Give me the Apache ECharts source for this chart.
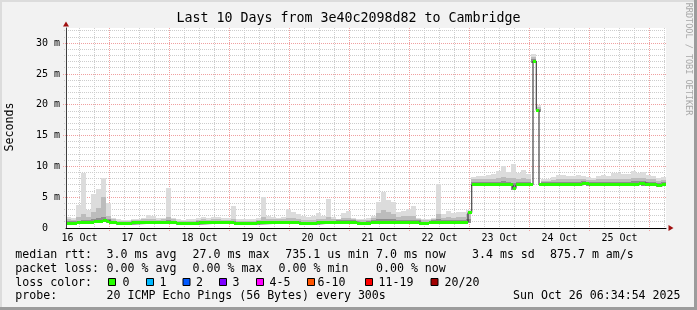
<!DOCTYPE html>
<html><head><meta charset="utf-8">
<script src="https://cdn.jsdelivr.net/npm/echarts@6/dist/echarts.min.js"></script>
<style>html,body{margin:0;padding:0;background:#f2f2f2}#c{width:697px;height:310px}</style>
</head><body><div id="c"></div><script>
// ---- axis ranges (hours counted from Oct 16 00:00) ----
const START_HOUR = 6.6;
const END_HOUR = 246.6;
const Y_MAX = 32.48;
const BUCKET_HOURS = 2;

const dayLabels = ['16 Oct','17 Oct','18 Oct','19 Oct','20 Oct','21 Oct','22 Oct','23 Oct','24 Oct','25 Oct'];
const dayLabelHours = [12,36,60,84,108,132,156,180,204,228];
const yTickValues = [0,5,10,15,20,25,30];

// ---- median RTT (ms), step changes ----
const medianHours = [6.6,11,17.8,21.4,23,23.8,27,33,51,59.8,73.8,83,99.8,107,115.8,123,128.6,147.8,151.8,167.4,168.9,185.4,186.6,193.4,194.7,195.8,213,215.8,235.8,238.2,243,245,246.6];
const medianValues = [0.8,0.9,1.05,1.2,1.0,0.9,0.65,0.9,0.65,0.85,0.65,0.85,0.65,0.85,0.95,0.75,0.95,0.75,0.95,2.5,7.0,6.4,7.0,27.1,19.1,7.0,7.2,7.0,7.3,7.1,6.85,7.0,7.0];

// ---- smoke (ms), one value per 2-hour bucket ----
const smokeMin = [0.65,0.65,0.75,0.75,0.75,0.85,0.9,1.0,0.85,0.75, 0.5,0.5,0.5,0.75,0.75,0.75,0.75,0.75,0.75,0.75, 0.75,0.7,0.5,0.5,0.5,0.5,0.65,0.7,0.7,0.7, 0.7,0.7,0.7,0.6,0.5,0.5,0.5,0.5,0.7,0.7, 0.7,0.7,0.7,0.7,0.7,0.7,0.6,0.5,0.5,0.5, 0.7,0.7,0.7,0.7,0.8,0.8,0.8,0.8,0.6,0.6, 0.6,0.8,0.8,0.8,0.8,0.8,0.8,0.8,0.8,0.8, 0.8,0.6,0.6,0.8,0.8,0.8,0.8,0.8,0.8,0.8, 0.85,6.8,6.8,6.8,6.8,6.8,6.8,6.8,6.8,6.2, 6.8,6.8,6.8,26.8,18.8,6.8,6.8,6.8,6.8,6.8, 6.8,6.8,6.8,7.0,6.8,6.8,6.8,6.8,6.8,6.8, 6.8,6.8,6.8,6.8,7.0,6.9,6.9,6.9,6.6,6.8];
const smokeLow = [1.1,1.1,1.2,1.3,1.3,1.5,1.6,1.8,1.4,1.2, 0.95,0.95,0.95,1.15,1.2,1.2,1.2,1.2,1.2,1.2, 1.3,1.2,0.95,0.95,0.95,0.95,1.1,1.15,1.1,1.15, 1.15,1.1,1.1,1.1,0.95,0.95,0.95,0.95,1.1,1.2, 1.15,1.15,1.1,1.15,1.2,1.2,1.1,1.0,1.0,1.0, 1.15,1.15,1.2,1.15,1.25,1.3,1.3,1.25,1.05,1.05, 1.1,1.3,1.4,1.5,1.4,1.4,1.3,1.3,1.3,1.3, 1.25,1.05,1.05,1.25,1.4,1.3,1.3,1.3,1.3,1.3, 1.4,7.5,7.5,7.5,7.5,7.5,7.5,7.6,7.5,7.3, 7.5,7.5,7.5,27.4,19.4,7.4,7.4,7.4,7.5,7.5, 7.5,7.5,7.5,7.6,7.5,7.5,7.5,7.5,7.5,7.5, 7.5,7.5,7.5,7.6,7.7,7.6,7.5,7.5,7.3,7.4];
const smokeMid = [1.4,1.3,1.8,2.2,1.8,2.6,3.2,5.0,2.0,1.4, 1.2,1.1,1.1,1.3,1.35,1.4,1.5,1.4,1.35,1.4, 1.8,1.4,1.2,1.1,1.15,1.2,1.35,1.4,1.35,1.45, 1.45,1.35,1.35,1.5,1.2,1.15,1.15,1.2,1.35,1.8, 1.45,1.45,1.4,1.45,1.7,1.6,1.5,1.3,1.3,1.3, 1.5,1.45,1.8,1.4,1.4,1.6,1.7,1.4,1.25,1.3, 1.35,1.6,2.4,3.0,2.6,2.3,1.8,1.9,2.0,2.0, 1.4,1.3,1.25,1.4,2.2,1.7,1.8,1.7,1.8,1.8, 2.2,7.9,7.9,7.9,8.0,8.0,8.1,8.3,8.1,8.2, 8.0,8.2,8.0,27.8,19.6,7.6,7.7,7.8,7.9,7.9, 7.9,7.9,7.9,8.0,7.8,7.8,7.9,7.9,7.9,8.0, 8.0,7.9,8.0,8.1,8.1,8.1,7.9,7.9,7.7,7.8];
const smokeMax = [1.8,1.6,3.7,9.0,3.0,5.6,6.4,8.1,4.0,1.7, 1.5,1.3,1.3,1.4,1.5,1.7,2.1,1.9,1.6,1.7, 6.5,1.7,1.5,1.3,1.4,1.5,1.7,1.8,1.6,1.8, 1.8,1.6,1.6,3.6,1.5,1.4,1.4,1.5,1.6,5.0, 1.9,1.8,1.7,1.8,3.1,2.6,2.2,1.9,1.8,1.9, 2.4,1.9,4.7,1.8,1.5,2.5,2.8,1.6,1.4,1.5, 1.6,2.0,4.3,5.9,4.5,4.2,2.6,2.8,3.1,3.6, 1.6,1.5,1.4,1.6,7.2,2.3,2.8,2.4,2.6,2.6, 2.9,8.3,8.4,8.5,8.6,8.8,9.2,10.0,9.1,10.4, 8.9,9.4,8.8,28.3,19.9,7.9,8.0,8.3,8.6,8.6, 8.4,8.5,8.6,8.5,8.3,8.2,8.4,8.6,8.5,9.0, 8.9,8.7,8.8,9.2,9.0,9.1,8.6,8.4,8.2,8.3];

// ---- legend text ----
const rttStats = ['median rtt:','3.0 ms avg','27.0 ms max','735.1 us min','7.0 ms now','3.4 ms sd','875.7 m am/s'];
const rttStatX = [16,107.3,193.3,286,376.7,472.7,550.7];
const lossStats = ['packet loss:','0.00 % avg','0.00 % max','0.00 % min','0.00 % now'];
const lossStatX = [16,107.3,193.3,279.3,376.7];
const lossLabels = ['0','1','2','3','4-5','6-10','11-19','20/20'];
const lossColors = ['#26ff00','#00b8ff','#0059ff','#7e00ff','#ff00ff','#ff5500','#ff0000','#a10000'];
const lossBoxX = [108.5,146.5,183,219.5,256.5,307.5,365.5,431];
const lossLabelX = [122.5,159.5,196,232.5,269.5,317.5,378.5,444.5];
const probeText = '20 ICMP Echo Pings (56 Bytes) every 300s';
const dateText = 'Sun Oct 26 06:34:54 2025';
const titleText = 'Last 10 Days from 3e40c2098d82 to Cambridge';

const MONO = "'DejaVu Sans Mono', monospace";
const MAJOR = '#f0a0a0', MINOR = '#cdcdcd';

// grid line positions (axis structure, not data)
const gridLines = [];
for (let h = 12; h < END_HOUR; h += 6) gridLines.push([h, h % 24 === 0 ? 1 : 0]);
for (let v = 1; v < Y_MAX; v += 1) gridLines.push([v, v % 5 === 0 ? 3 : 2]);

const chart = echarts.init(document.getElementById('c'), null, {renderer: 'canvas'});

function smokeSeries(lo, hi, color, z) {
  return {
    type: 'custom', silent: true, z: z, clip: true,
    data: lo.map((l, i) => [START_HOUR + i * BUCKET_HOURS, l, hi[i]]),
    encode: {x: 0, y: [1, 2]},
    renderItem: function (params, api) {
      const x0 = api.value(0), l = api.value(1), h = api.value(2);
      const p0 = api.coord([x0, h]);
      const p1 = api.coord([x0 + BUCKET_HOURS, l]);
      const xa = Math.round(p0[0]), xb = Math.round(p1[0]);
      const ya = Math.round(p0[1]), yb = Math.round(p1[1]);
      return {type: 'rect', shape: {x: xa, y: ya, width: xb - xa, height: Math.max(1, yb - ya)}, style: {fill: color}};
    }
  };
}

const medianSegs = [];
for (let i = 0; i < medianHours.length - 1; i++) medianSegs.push([medianHours[i], medianHours[i + 1], medianValues[i]]);

const texts = [];
function txt(s, x, y, extra) {
  texts.push(Object.assign({type: 'text', x: x, y: y, silent: true, style: {text: s, font: '11.6px ' + MONO, fill: '#000', align: 'left', verticalAlign: 'middle'}}, extra || {}));
}
rttStats.forEach((s, i) => txt(s, rttStatX[i] - 0.7, 254.5));
lossStats.forEach((s, i) => txt(s, lossStatX[i] - 0.7, 268.5));
txt('loss color:', 15.3, 282.5);
lossLabels.forEach((s, i) => {
  texts.push({type: 'rect', silent: true, shape: {x: lossBoxX[i], y: 278.5, width: 7, height: 7}, style: {fill: lossColors[i], stroke: '#000', lineWidth: 1}});
  txt(s, lossLabelX[i], 282.5);
});
txt('probe:', 15.3, 296);
txt(probeText, 106.6, 296);
texts.push({type: 'text', x: 680.5, y: 296, silent: true, style: {text: dateText, font: '11.6px ' + MONO, fill: '#000', align: 'right', verticalAlign: 'middle'}});
texts.push({type: 'text', x: 348.5, y: 19, silent: true, style: {text: titleText, font: '13.3px ' + MONO, fill: '#000', align: 'center', verticalAlign: 'middle'}});
texts.push({type: 'text', x: 10, y: 127, rotation: Math.PI / 2, silent: true, style: {text: 'Seconds', font: '11.6px ' + MONO, fill: '#000', align: 'center', verticalAlign: 'middle'}});
texts.push({type: 'text', x: 688, y: 59, rotation: -Math.PI / 2, silent: true, style: {text: 'RRDTOOL / TOBI OETIKER', font: '8.5px ' + MONO, fill: '#a8a8a8', align: 'center', verticalAlign: 'middle'}});
// frame
texts.push({type: 'rect', silent: true, shape: {x: 0, y: 0, width: 697, height: 2}, style: {fill: '#dcdcdc'}});
texts.push({type: 'rect', silent: true, shape: {x: 0, y: 0, width: 2, height: 310}, style: {fill: '#dcdcdc'}});
texts.push({type: 'rect', silent: true, shape: {x: 0, y: 307, width: 697, height: 3}, style: {fill: '#9c9c9c'}});
texts.push({type: 'rect', silent: true, shape: {x: 694, y: 0, width: 3, height: 310}, style: {fill: '#9c9c9c'}});

const baseX = {type: 'value', min: START_HOUR, max: END_HOUR, gridIndex: 0};
const baseY = {type: 'value', min: 0, max: Y_MAX, gridIndex: 0};

const option = {
  backgroundColor: '#f2f2f2',
  animation: false,
  grid: {left: 66, top: 28, width: 600, height: 200, show: true, backgroundColor: '#ffffff', borderWidth: 0},
  xAxis: [
    Object.assign({}, baseX, {
      z: 10,
      axisLine: {show: true, lineStyle: {color: '#000', width: 1}},
      axisTick: {show: false}, splitLine: {show: false},
      axisLabel: {customValues: dayLabelHours, formatter: v => dayLabels[dayLabelHours.indexOf(Math.round(v))] || '',
        fontFamily: MONO, fontSize: 10, color: '#000', margin: 5}
    }),
    Object.assign({}, baseX, {
      z: 11,
      axisLine: {show: true, lineStyle: {color: '#a01010', width: 0}, symbol: ['none', 'triangle'], symbolSize: [6, 5], symbolOffset: [0, 5]},
      axisTick: {show: false}, splitLine: {show: false}, axisLabel: {show: false}
    })
  ],
  yAxis: [
    Object.assign({}, baseY, {
      z: 10,
      axisLine: {show: true, lineStyle: {color: '#404040', width: 1}},
      axisTick: {show: false}, splitLine: {show: false},
      axisLabel: {customValues: yTickValues, formatter: v => (v === 0 ? '0  ' : v + ' m'),
        fontFamily: MONO, fontSize: 10, color: '#000', margin: 6}
    }),
    Object.assign({}, baseY, {
      z: 11, position: 'left',
      axisLine: {show: true, lineStyle: {color: '#a01010', width: 0}, symbol: ['none', 'triangle'], symbolSize: [6, 5], symbolOffset: [0, 4]},
      axisTick: {show: false}, splitLine: {show: false}, axisLabel: {show: false}
    })
  ],
  series: [
    {
      type: 'custom', silent: true, z: 1, clip: false,
      data: gridLines,
      renderItem: function (params, api) {
        const v = api.value(0), kind = api.value(1);
        const cs = params.coordSys;
        if (kind < 2) {
          const x = Math.floor(api.coord([v, 0])[0]) + 0.5;
          return {type: 'line', shape: {x1: x, y1: cs.y, x2: x, y2: cs.y + cs.height + (kind === 1 ? 3 : 2)},
            style: {stroke: kind === 1 ? MAJOR : MINOR, lineWidth: 1, lineDash: [1, 1]}};
        }
        const y = Math.floor(api.coord([START_HOUR, v])[1]) + 0.5;
        return {type: 'line', shape: {x1: cs.x - (kind === 3 ? 3 : 2), y1: y, x2: cs.x + cs.width, y2: y},
          style: {stroke: kind === 3 ? MAJOR : MINOR, lineWidth: 1, lineDash: [1, 1]}};
      }
    },
    smokeSeries(smokeMin, smokeMax, '#dcdcdc', 2),
    smokeSeries(smokeMin, smokeMid, '#bcbcbc', 3),
    smokeSeries(smokeMin, smokeLow, '#8e8e8e', 4),
    {
      type: 'line', step: 'end', silent: true, z: 5, symbol: 'none',
      data: medianHours.map((h, i) => [h, medianValues[i]]),
      lineStyle: {color: '#202020', width: 1}
    },
    {
      type: 'custom', silent: true, z: 6, clip: true,
      data: medianSegs,
      encode: {x: [0, 1], y: 2},
      renderItem: function (params, api) {
        const a = api.coord([api.value(0), api.value(2)]);
        const b = api.coord([api.value(1), api.value(2)]);
        const xa = Math.round(a[0]), xb = Math.round(b[0]);
        const y = Math.round(a[1] - 1.5);
        return {type: 'rect', shape: {x: xa, y: y, width: xb - xa, height: 3}, style: {fill: '#26ff00'}};
      }
    }
  ],
  graphic: texts
};
chart.setOption(option);
</script></body></html>
